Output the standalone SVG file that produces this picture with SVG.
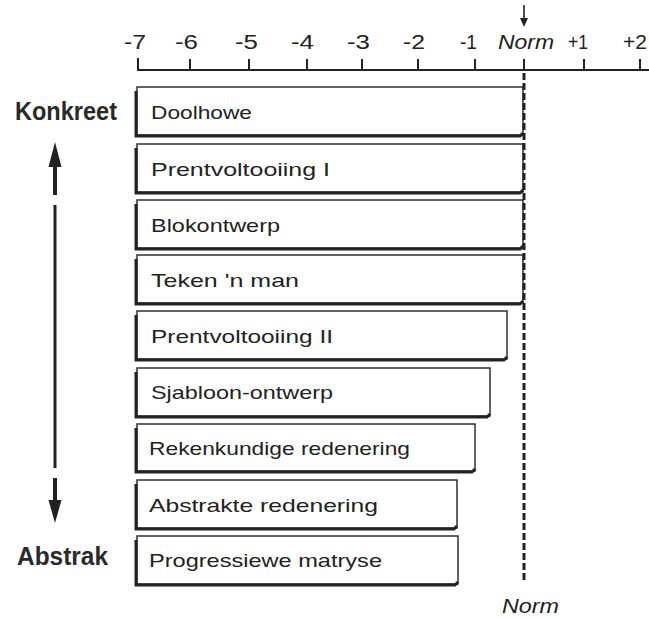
<svg xmlns="http://www.w3.org/2000/svg" width="649" height="619" viewBox="0 0 649 619">
<defs>
<style>
.t{font-family:"Liberation Sans",Arial,sans-serif;font-size:19px;fill:#222;}
.ax{font-family:"Liberation Sans",Arial,sans-serif;font-size:20px;fill:#222;}
.it{font-style:italic;}
.bl{font-family:"Liberation Sans",Arial,sans-serif;font-size:25px;font-weight:bold;fill:#2a2a2a;}
.box{fill:#fff;stroke:#222;stroke-width:1.4;}
.sh{fill:none;stroke:#222;stroke-width:3;stroke-linejoin:miter;}
.ln{stroke:#222;fill:none;}
</style>
</defs>
<rect width="649" height="619" fill="#fff"/>
<g id="axis">
<path class="ln" stroke-width="2" d="M138 58 V70 H649"/>
<path class="ln" stroke-width="2" d="M190 59V70 M249 59V70 M307 59V70 M362 59V70 M418 59V70 M475 59V70 M524 59V70 M584 59V70 M640 59V70"/>
<text class="ax" x="124" y="49" textLength="22" lengthAdjust="spacingAndGlyphs">-7</text>
<text class="ax" x="175" y="49" textLength="23" lengthAdjust="spacingAndGlyphs">-6</text>
<text class="ax" x="235" y="49" textLength="23" lengthAdjust="spacingAndGlyphs">-5</text>
<text class="ax" x="291" y="49" textLength="23" lengthAdjust="spacingAndGlyphs">-4</text>
<text class="ax" x="347" y="49" textLength="23" lengthAdjust="spacingAndGlyphs">-3</text>
<text class="ax" x="403" y="49" textLength="22" lengthAdjust="spacingAndGlyphs">-2</text>
<text class="ax" x="460" y="49" textLength="17" lengthAdjust="spacingAndGlyphs">-1</text>
<text class="ax it" x="498" y="49" textLength="56" lengthAdjust="spacingAndGlyphs">Norm</text>
<text class="ax" x="568" y="49" textLength="20" lengthAdjust="spacingAndGlyphs">+1</text>
<text class="ax" x="623" y="49" textLength="24" lengthAdjust="spacingAndGlyphs">+2</text>
</g>
<g id="norm-marker">
<path class="ln" stroke-width="1.6" d="M524 5 V20"/>
<path d="M520 18 L528 18 L524 27 Z" fill="#222"/>
</g>
<g id="bars">
<g id="bar-doolhowe">
<rect class="box" x="137" y="87" width="386" height="48"/>
<path class="sh" d="M136 91 V136 H520 L523 133"/>
<text class="t" x="151" y="119" textLength="101" lengthAdjust="spacingAndGlyphs">Doolhowe</text>
</g>
<g id="bar-prentvoltooiing-1">
<rect class="box" x="137" y="144" width="386" height="48"/>
<path class="sh" d="M136 148 V193 H520 L523 190"/>
<text class="t" x="151" y="176" textLength="179" lengthAdjust="spacingAndGlyphs">Prentvoltooiing I</text>
</g>
<g id="bar-blokontwerp">
<rect class="box" x="137" y="200" width="386" height="48"/>
<path class="sh" d="M136 204 V249 H520 L523 246"/>
<text class="t" x="151" y="232" textLength="129" lengthAdjust="spacingAndGlyphs">Blokontwerp</text>
</g>
<g id="bar-teken">
<rect class="box" x="137" y="255" width="386" height="48"/>
<path class="sh" d="M136 259 V304 H520 L523 301"/>
<text class="t" x="151" y="287" textLength="148" lengthAdjust="spacingAndGlyphs">Teken 'n man</text>
</g>
<g id="bar-prentvoltooiing-2">
<rect class="box" x="137" y="311" width="370" height="48"/>
<path class="sh" d="M136 315 V360 H504 L507 357"/>
<text class="t" x="151" y="343" textLength="182" lengthAdjust="spacingAndGlyphs">Prentvoltooiing II</text>
</g>
<g id="bar-sjabloon">
<rect class="box" x="137" y="368" width="353" height="48"/>
<path class="sh" d="M136 372 V417 H487 L490 414"/>
<text class="t" x="151" y="399" textLength="182" lengthAdjust="spacingAndGlyphs">Sjabloon-ontwerp</text>
</g>
<g id="bar-rekenkundige">
<rect class="box" x="137" y="424" width="338" height="47"/>
<path class="sh" d="M136 428 V472 H472 L475 469"/>
<text class="t" x="149" y="455" textLength="261" lengthAdjust="spacingAndGlyphs">Rekenkundige redenering</text>
</g>
<g id="bar-abstrakte">
<rect class="box" x="137" y="480" width="320" height="48"/>
<path class="sh" d="M136 484 V529 H454 L457 526"/>
<text class="t" x="149" y="512" textLength="229" lengthAdjust="spacingAndGlyphs">Abstrakte redenering</text>
</g>
<g id="bar-progressiewe">
<rect class="box" x="137" y="536" width="321" height="48"/>
<path class="sh" d="M136 540 V585 H455 L458 582"/>
<text class="t" x="149" y="567" textLength="233" lengthAdjust="spacingAndGlyphs">Progressiewe matryse</text>
</g>
</g>
<g id="norm-line">
<path class="ln" stroke-width="3" stroke-dasharray="7 3" d="M524 73 V583"/>
<text class="ax it" x="502" y="613" textLength="57" lengthAdjust="spacingAndGlyphs">Norm</text>
</g>
<g id="scale-arrow">
<text class="bl" x="15" y="120" textLength="102" lengthAdjust="spacingAndGlyphs">Konkreet</text>
<text class="bl" x="17" y="565" textLength="91" lengthAdjust="spacingAndGlyphs">Abstrak</text>
<path d="M55 142 L61.5 167 L48.5 167 Z" fill="#222"/>
<path class="ln" stroke-width="4" d="M55 166 V195"/>
<path class="ln" stroke-width="3" d="M55 205 V468"/>
<path class="ln" stroke-width="4" d="M55 478 V501"/>
<path d="M55 523 L61.5 500 L48.5 500 Z" fill="#222"/>
</g>
</svg>
